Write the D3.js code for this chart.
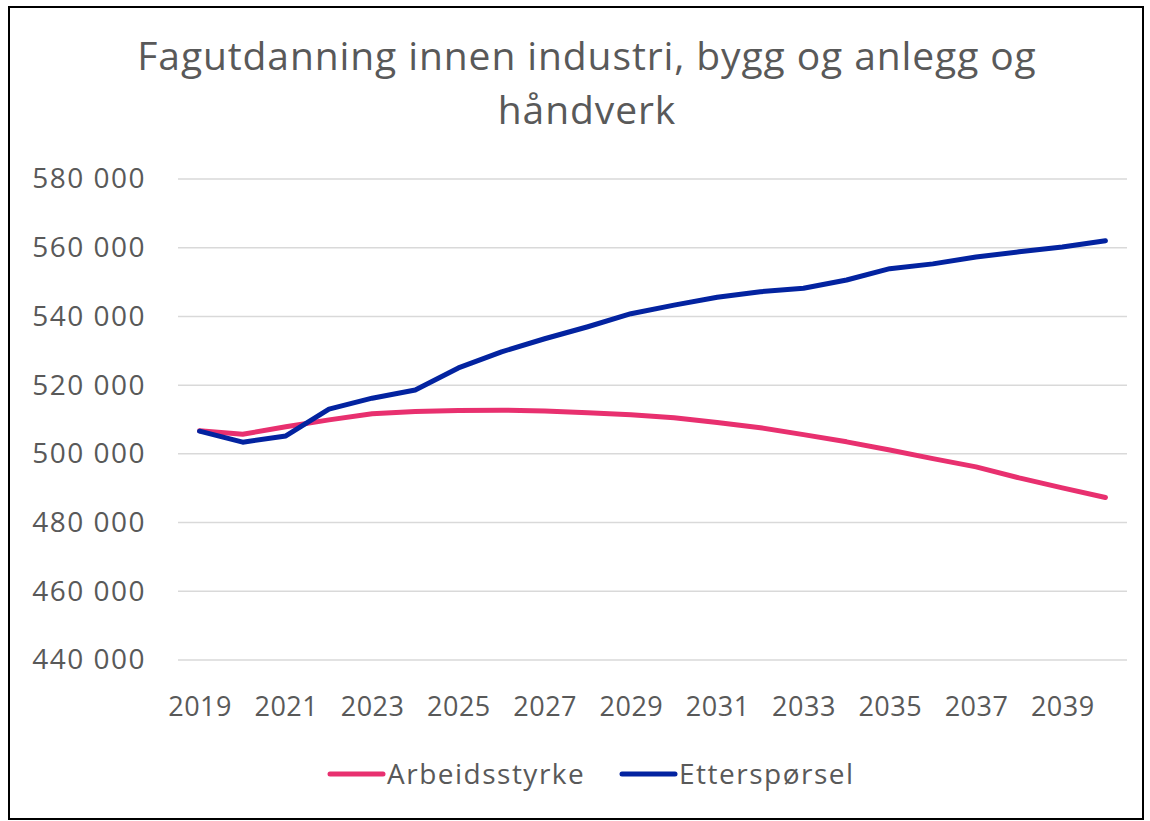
<!DOCTYPE html>
<html>
<head>
<meta charset="utf-8">
<script src="https://cdn.jsdelivr.net/npm/d3@7"></script>
<style>
  body { margin: 0; background: #fff; }
  text { font-family: "Open Sans", Lato, sans-serif; fill: #595959; }
</style>
</head>
<body>
<script>
// chart data
var years = d3.range(2019, 2041);
var arbeidsstyrke = [506700, 505700, 507900, 509900, 511700, 512300, 512600, 512700, 512500, 512000,
                     511400, 510500, 509100, 507600, 505600, 503500, 501100, 498600, 496200, 493000, 490100, 487300];
var etterspoersel = [506600, 503400, 505200, 513000, 516200, 518600, 525000, 529700, 533500, 537000,
                     540800, 543300, 545600, 547200, 548200, 550600, 553900, 555300, 557300, 558800, 560200, 562000];
var yTicks = [440000, 460000, 480000, 500000, 520000, 540000, 560000, 580000];
var seriesNames = ["Arbeidsstyrke", "Etterspørsel"];
var seriesColors = ["#E8306F", "#0323A0"];

var w = 1150, h = 821;
var svg = d3.select("body").append("svg")
    .attr("width", w)
    .attr("height", h);

// outer frame
svg.append("rect")
    .attr("x", 9).attr("y", 7)
    .attr("width", 1134).attr("height", 812)
    .attr("fill", "#fff")
    .attr("stroke", "#000")
    .attr("stroke-width", 2);

// title
var title = svg.append("text")
    .attr("text-anchor", "middle")
    .attr("font-size", 39)
    .attr("letter-spacing", 0.9);
title.append("tspan").attr("x", 587).attr("y", 70).text("Fagutdanning innen industri, bygg og anlegg og");
title.append("tspan").attr("x", 587).attr("y", 124).text("håndverk");

// scales
var x = d3.scalePoint()
    .domain(years)
    .range([178, 1127])
    .padding(0.5);

var y = d3.scaleLinear()
    .domain([440000, 580000])
    .range([660, 179]);

// gridlines
svg.append("g")
    .selectAll("line")
    .data(yTicks)
    .enter()
    .append("line")
    .attr("x1", 178).attr("x2", 1127)
    .attr("y1", function(d) { return y(d); })
    .attr("y2", function(d) { return y(d); })
    .attr("stroke", "#d9d9d9")
    .attr("stroke-width", 1.5);

// y axis
var fmt = function(d) { return d3.format(",")(d).replace(/,/g, " "); };
var yAxis = svg.append("g")
    .attr("transform", "translate(146,0)")
    .call(d3.axisLeft(y).tickValues(yTicks).tickFormat(fmt).tickSize(0).tickPadding(0));
yAxis.select(".domain").remove();
yAxis.selectAll("text")
    .attr("font-size", 28)
    .attr("letter-spacing", 1.5)
    .attr("fill", "#595959")
    .attr("font-family", "'Open Sans', Lato, sans-serif");

// x axis
var xAxis = svg.append("g")
    .attr("transform", "translate(0,697)")
    .call(d3.axisBottom(x)
        .tickValues(years.filter(function(d) { return (d - 2019) % 2 === 0; }))
        .tickFormat(d3.format("d"))
        .tickSize(0).tickPadding(0));
xAxis.select(".domain").remove();
xAxis.selectAll("text")
    .attr("font-size", 27)
    .attr("letter-spacing", 0.5)
    .attr("fill", "#595959")
    .attr("font-family", "'Open Sans', Lato, sans-serif");

// lines
var line = d3.line()
    .x(function(d, i) { return x(years[i]); })
    .y(function(d) { return y(d); });

[arbeidsstyrke, etterspoersel].forEach(function(s, i) {
    svg.append("path")
        .datum(s)
        .attr("d", line)
        .attr("fill", "none")
        .attr("stroke", seriesColors[i])
        .attr("stroke-width", 5)
        .attr("stroke-linecap", "round")
        .attr("stroke-linejoin", "round");
});

// legend
var legendX = [330, 622];
var legend = svg.selectAll(".legend")
    .data(seriesNames)
    .enter()
    .append("g")
    .attr("class", "legend")
    .attr("transform", function(d, i) { return "translate(" + legendX[i] + ",774)"; });
legend.append("line")
    .attr("x1", 0).attr("x2", 53)
    .attr("stroke", function(d, i) { return seriesColors[i]; })
    .attr("stroke-width", 5)
    .attr("stroke-linecap", "round");
legend.append("text")
    .attr("x", 57)
    .attr("dy", "0.35em")
    .attr("font-size", 28)
    .attr("letter-spacing", 1.5)
    .text(function(d) { return d; });
</script>
</body>
</html>
